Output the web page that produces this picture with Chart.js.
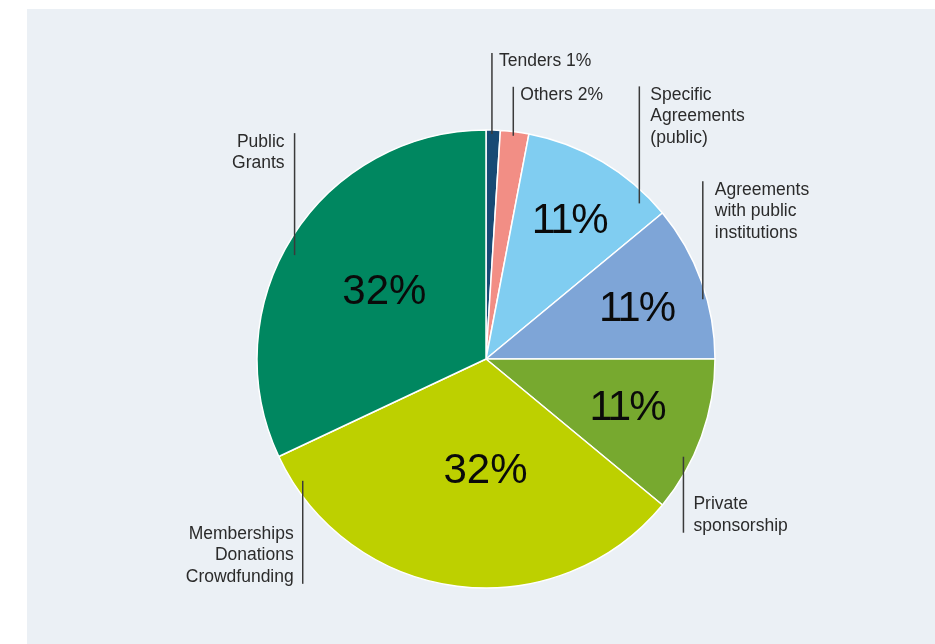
<!DOCTYPE html>
<html>
<head>
<meta charset="utf-8">
<title>Funding sources</title>
<script src="https://cdn.jsdelivr.net/npm/chart.js@4.4.0/dist/chart.umd.min.js"></script>
<style>
  html, body { margin: 0; padding: 0; background: #ffffff; }
  #panel { position: absolute; left: 27px; top: 9px; width: 908px; height: 635px; background: #ebf0f5; }
  canvas { display: block; }
</style>
</head>
<body>
<div id="panel"><canvas id="pie" width="908" height="635"></canvas></div>
<script>
// Data (clockwise from the top)
const categories = ['Tenders', 'Others', 'Specific Agreements (public)', 'Agreements with public institutions',
  'Private sponsorship', 'Memberships, Donations, Crowdfunding', 'Public Grants'];
const shares = [1, 2, 11, 11, 11, 32, 32];
const labelLines = [
  null, // built from category + value
  null,
  ['Specific', 'Agreements', '(public)'],
  ['Agreements', 'with public', 'institutions'],
  ['Private', 'sponsorship'],
  ['Memberships', 'Donations', 'Crowdfunding'],
  ['Public', 'Grants']
];
const sliceColors = ['#174a74', '#f28e85', '#80cdf1', '#7ea5d7', '#77a92f', '#bdd000', '#008760'];

// Layout of the callouts: t = position inside the slice (0..1), r = fraction of the radius
const leaders = [
  { t: 0.42, r: 0.983, len: 81, dir: -1, side: 'right', gap: 7 },
  { t: 0.468, r: 0.982, len: 49, dir: -1, side: 'right', gap: 7 },
  { t: 0.853, r: 0.954, len: 117, dir: -1, side: 'right', gap: 11 },
  { t: 0.611, r: 0.982, len: 118, dir: -1, side: 'right', gap: 12 },
  { t: 0.665, r: 0.962, len: 76, dir: 1, side: 'right', gap: 10 },
  { t: 0.927, r: 0.961, len: 103, dir: 1, side: 'left', gap: 9 },
  { t: 0.466, r: 0.951, len: 122, dir: -1, side: 'left', gap: 10 }
];
const pctPos = [null, null, { t: 0.497, r: 0.716 }, { t: 0.51, r: 0.697 }, { t: 0.456, r: 0.648 },
  { t: 0.44, r: 0.474 }, { t: 0.52, r: 0.54 }];

const textFont = '17.5px "Liberation Sans", Arial, sans-serif';
const pctFont = '42px "Liberation Sans", Arial, sans-serif';

// draws the leader lines, the outside labels and the big percentages
const calloutPlugin = {
  id: 'callouts',
  afterDatasetsDraw(chart) {
    const ctx = chart.ctx;
    const arcs = chart.getDatasetMeta(0).data;
    ctx.save();
    arcs.forEach(function (arc, i) {
      const p = arc.getProps(['x', 'y', 'startAngle', 'endAngle', 'outerRadius'], true);
      function pointAt(t, r) {
        const a = p.startAngle + t * (p.endAngle - p.startAngle);
        return { x: p.x + Math.cos(a) * r * p.outerRadius, y: p.y + Math.sin(a) * r * p.outerRadius };
      }

      // leader line
      const L = leaders[i];
      const start = pointAt(L.t, L.r);
      const end = start.y + L.dir * L.len;
      ctx.strokeStyle = '#3a3a3a';
      ctx.lineWidth = 1.5;
      ctx.beginPath();
      ctx.moveTo(start.x, start.y);
      ctx.lineTo(start.x, end);
      ctx.stroke();

      // label text
      const lines = labelLines[i] || [categories[i] + ' ' + shares[i] + '%'];
      ctx.font = textFont;
      ctx.fillStyle = '#2b2b2b';
      ctx.textBaseline = 'alphabetic';
      ctx.letterSpacing = '0px';
      ctx.textAlign = L.side === 'right' ? 'left' : 'right';
      const tx = L.side === 'right' ? start.x + L.gap : start.x - L.gap;
      lines.forEach(function (txt, k) {
        let by;
        if (L.dir < 0) {
          by = end + 13.5 + k * 21.5;
        } else {
          by = end - 2 - (lines.length - 1 - k) * 21.5;
        }
        ctx.fillText(txt, tx, by);
      });

      // percentage inside slice (the reference font has narrow ones)
      if (pctPos[i]) {
        const c = pointAt(pctPos[i].t, pctPos[i].r);
        const txt = shares[i] + '%';
        ctx.font = pctFont;
        ctx.fillStyle = '#0a0a0a';
        ctx.textAlign = 'left';
        ctx.letterSpacing = txt.indexOf('1') >= 0 ? '-2px' : '0px';
        const w = ctx.measureText(txt).width;
        ctx.fillText(txt, c.x - w / 2, c.y + 15);
      }
    });
    ctx.restore();
  }
};

new Chart(document.getElementById('pie'), {
  type: 'pie',
  data: {
    labels: categories,
    datasets: [{
      data: shares,
      backgroundColor: sliceColors,
      borderColor: '#ffffff',
      borderWidth: 1.5,
      hoverOffset: 0
    }]
  },
  options: {
    responsive: false,
    animation: false,
    events: [],
    radius: 229,
    layout: { padding: { top: 65, bottom: 0, left: 10, right: 0 } },
    plugins: {
      legend: { display: false },
      tooltip: { enabled: false }
    }
  },
  plugins: [calloutPlugin]
});
</script>
</body>
</html>
